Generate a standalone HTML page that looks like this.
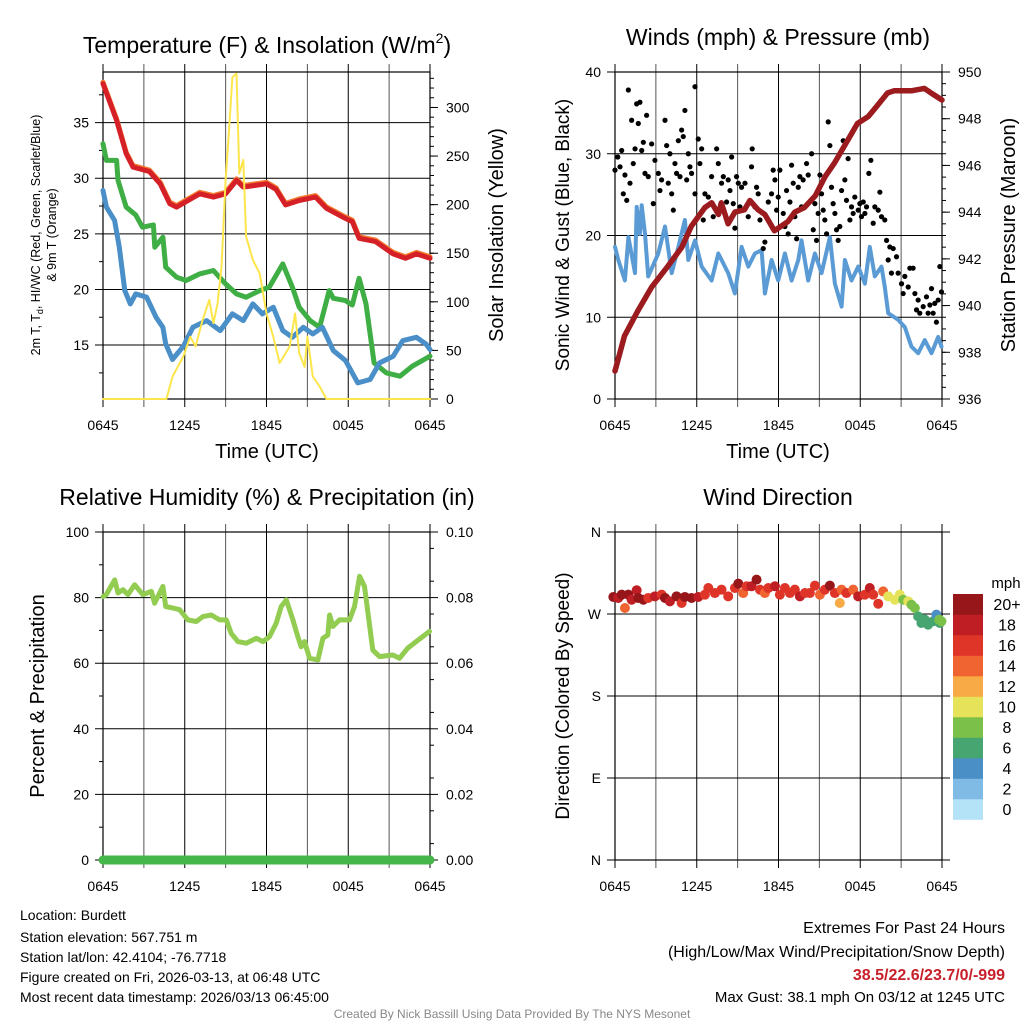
<!DOCTYPE html>
<html><head><meta charset="utf-8"><style>
html,body{margin:0;padding:0;background:#fff}
svg text{font-family:"Liberation Sans",Arial,sans-serif}
</style></head><body>
<svg id="chart" width="1024" height="1024" viewBox="0 0 1024 1024" xmlns="http://www.w3.org/2000/svg">
<rect width="1024" height="1024" fill="#fff"/>
<g id="root"></g>
<g font-size="14" fill="#000">
<text x="20" y="920">Location: Burdett</text>
<text x="20" y="942">Station elevation: 567.751 m</text>
<text x="20" y="962">Station lat/lon: 42.4104; -76.7718</text>
<text x="20" y="982">Figure created on Fri, 2026-03-13, at 06:48 UTC</text>
<text x="20" y="1002">Most recent data timestamp: 2026/03/13 06:45:00</text>
<text x="1005" y="933" text-anchor="end" font-size="16">Extremes For Past 24 Hours</text>
<text x="1005" y="957" text-anchor="end" font-size="16">(High/Low/Max Wind/Precipitation/Snow Depth)</text>
<text x="1005" y="980" text-anchor="end" font-size="16" font-weight="bold" fill="#c8202a">38.5/22.6/23.7/0/-999</text>
<text x="1005" y="1002" text-anchor="end" font-size="15">Max Gust: 38.1 mph On 03/12 at 1245 UTC</text>
<text x="512" y="1018" text-anchor="middle" font-size="12" fill="#888">Created By Nick Bassill Using Data Provided By The NYS Mesonet</text>
</g>
</svg>
<script>
// ---- Panel 1 data (hours since 0645 UTC) ----
const tempT=[0,1,1.7,2.2,3.4,4.2,4.9,5.4,7.1,8.1,9,9.8,10.3,12,12.7,13.4,14.4,15.6,16.4,17.6,18.3,18.8,20,21.3,22.2,23,24];
const tempV=[38.5,35.2,32.2,31,30.6,29.5,27.7,27.4,28.6,28.3,28.6,29.8,29.2,29.5,29,27.6,28,28.3,27.3,26.5,26.1,24.6,24.3,23.2,22.8,23.2,22.8];
const dewT=[0,0.25,1,1.1,1.7,2.4,2.9,3.7,3.8,4.4,4.6,5.4,6.1,7.1,8.1,9,9.8,10.5,11.5,12.2,13.2,13.9,14.4,15.2,15.9,16.6,16.9,17.8,18.3,18.8,19.3,19.9,20.8,21.8,22.7,24];
const dewV=[33.1,31.6,31.6,29.8,27.4,26.7,25.6,25.8,23.8,24.7,22,21.1,20.8,21.4,21.7,20.5,19.6,19.3,19.9,20.2,22.3,20.2,18.4,17.2,16.6,19.9,19.2,19,18.6,21,18.7,13.4,12.5,12.2,13.1,14];
const wcT=[0,0.25,0.85,1.2,1.6,2,2.4,3.2,3.9,4.4,4.6,5.1,5.9,6.6,7.6,8.6,9.5,10.3,11,11.7,12.5,13.2,13.9,14.7,15.4,16.1,16.9,17.8,18.7,19.6,20.3,21.3,22,23,23.7,24];
const wcV=[28.9,27.4,26.2,23.8,19.9,18.7,19.6,19.3,17.5,16.6,15.1,13.7,14.9,16.6,17.2,16.3,17.8,17.2,18.7,17.8,18.4,16.3,15.7,16.6,16,16.6,14.5,13.6,11.6,11.9,13.4,14,15.4,15.7,15.1,14.6];
const solT=[0,4.65,5.1,5.9,6.4,6.8,7.3,7.8,8.1,8.4,8.7,9,9.3,9.5,9.8,10,10.3,10.5,11,11.5,12,12.5,12.96,13.7,14.1,14.4,14.8,15,15.4,15.9,16.4,24];
const solV=[0,0,23,44,64,54,81,102,78,98,136,225,287,331,335,232,246,167,143,129,88,64,37,54,88,47,33,64,23,13,0,0];
// ---- Panel 2 data ----
const presT=[0,0.7,1.7,2.7,3.9,4.9,5.6,6.6,7.1,7.6,7.8,8.3,8.8,9.5,9.9,10.5,11,11.7,12.7,13.2,13.9,14.7,15.4,16.1,17.1,17.8,18.6,19.3,20,20.5,21.8,22.7,23.2,24];
const presV=[937.2,938.7,939.8,940.8,941.7,942.5,943.4,944.2,944.4,943.9,944.4,943.5,944,944.1,944.5,944.1,943.9,943.2,943.6,944,944.2,944.7,945.5,946.1,947.1,947.8,948.1,948.6,949.1,949.2,949.2,949.3,949.1,948.8];
const windT=[0,0.24,0.73,0.98,1.47,1.59,1.83,1.96,2.2,2.44,3.18,3.67,4.16,4.65,5.13,5.38,5.87,6.36,7.09,7.58,8.31,8.8,9.29,9.78,10.27,10.76,11,11.49,11.98,12.47,12.96,13.45,13.69,14.18,14.67,15.16,15.77,16.14,16.63,16.87,17.36,17.85,18.34,18.7,19.07,19.56,19.8,20.05,20.78,21.27,21.76,22.25,22.74,23.23,23.72,23.96];
const windV=[18.6,17,14.5,19.8,15.4,23.5,20.2,23.7,20.2,15,17.8,21.1,15.4,18.6,21.9,17,19.4,16.2,14.5,17.8,15.4,12.9,18.6,16.2,17.8,18.2,12.9,17,14.5,17.8,14.5,17,19.4,14.5,17.8,15.4,19.8,14.1,11.3,17,14.5,16.2,14.1,18.6,15,16.2,13.7,10.5,9.7,8.8,6.4,5.6,7.2,5.6,7.6,6.4];
const gustT=[0,.2,.37,.49,.61,.73,.86,.98,1.1,1.22,1.34,1.47,1.59,1.71,1.83,1.96,2.08,2.2,2.32,2.44,2.69,2.81,2.93,3.18,3.3,3.42,3.67,3.79,3.91,4.03,4.16,4.28,4.4,4.52,4.65,4.77,4.89,5.01,5.13,5.26,5.38,5.5,5.62,5.87,5.87,6.11,6.23,6.36,6.48,6.6,6.85,7.09,7.21,7.46,7.58,7.82,7.95,8.19,8.31,8.44,8.56,8.68,8.8,8.92,9.05,9.17,9.29,9.54,9.78,10.02,10.07,10.27,10.39,10.51,10.64,10.88,11,11.25,11.49,11.61,11.74,11.86,11.98,12.1,12.35,12.47,12.59,12.71,12.84,12.96,13.08,13.2,13.33,13.45,13.57,13.69,13.81,14.06,14.18,14.43,14.55,14.67,14.79,14.91,15.04,15.16,15.28,15.4,15.53,15.65,15.77,15.89,16.01,16.14,16.26,16.38,16.5,16.63,16.75,16.87,16.99,17.11,17.24,17.36,17.48,17.6,17.85,17.97,18.09,18.22,18.34,18.46,18.63,18.78,18.95,19.07,19.32,19.44,19.56,19.8,19.93,20.05,20.17,20.29,20.42,20.66,20.78,21.03,21.15,21.27,21.52,21.64,21.88,22.01,22.13,22.25,22.37,22.62,22.86,22.98,23.11,23.23,23.35,23.47,23.59,23.72,23.84,23.96];
const gustV=[28,29.6,28.4,30.4,25.1,27.4,24.3,37.8,26.4,34.1,28.8,30.6,36.1,33.7,36.3,30.4,31.4,27.6,34.7,27.2,31.2,23.9,29.2,27.6,25.5,26.8,34.1,31,26.4,30,25.1,23.1,28.8,27.6,31.6,27.2,32.9,32.1,35.3,26.8,30,28.4,27.6,38.2,25.1,31.8,28.8,30.6,21.9,25.1,24.7,27.2,22.3,30.6,28.8,26.4,27.2,24.1,26.8,25.5,29.6,23.9,20.9,27.2,26.4,23.5,25.9,26.4,22.3,28.4,30.6,23.5,25.9,25.1,21.9,18.4,19.2,24.1,25.1,28,26.8,23.1,24.7,28,22.7,21.1,25.5,20.2,24.1,28.6,26.4,22.3,19.6,25.9,27.2,23.5,26.8,28.8,27.4,30,20.7,23.9,19.4,22.7,27.4,25.1,23.1,21.9,20.2,33.9,31,25.9,23.9,22.7,20.7,19.4,21.1,25.5,31.6,26.8,24.3,29.4,21.9,23.5,22.7,24.7,23.1,23.9,22.3,24.1,22.7,23.5,27.6,29.2,21.5,23.5,23.1,25.3,22.3,21.9,19.4,17,18.6,15.4,18.4,17.4,15.4,14.1,12.9,15,13.7,16,16,12.9,10.9,12.1,10.5,11.3,12.5,10.5,11.5,13.5,10.5,11.7,9.4,12.1,16.2,13.1];
// ---- Panel 3 data ----
const rhT=[0,0.24,0.86,1.1,1.47,1.83,2.32,2.93,3.55,3.79,4.4,4.6,5.13,5.62,6.23,6.85,7.33,7.95,8.56,9.05,9.41,9.9,10.51,11.25,11.74,12.22,12.71,13.08,13.45,13.94,14.3,14.55,14.79,15.16,15.77,16.14,16.5,16.63,16.87,17.36,18.09,18.46,18.83,19.19,19.8,20.29,21.27,21.76,22.37,22.98,23.96];
const rhV=[80.3,80.9,85.4,81.4,82.4,80.9,83.9,80.9,81.9,78.3,83.4,77.3,76.8,76.3,73.2,72.7,74.2,74.7,73.2,73.2,69.1,66.6,66.1,67.6,66.6,68.1,72.2,77.3,79.3,73.2,68.1,65,66.6,61.5,61,67.6,68.6,74.7,71.2,73.2,73.2,77.3,86.5,83.4,64,62,62.5,61.5,64.6,66.6,69.7];
const precipT=[0,24];
const precipV=[0,0];
// ---- Panel 4 data ----
const dirT=[-0.12,0.24,0.49,0.73,0.98,1.22,1.59,1.71,2.08,2.44,2.93,3.42,3.67,4.03,4.52,4.89,5.13,5.62,6.11,6.6,6.85,7.33,7.82,8.31,8.8,9.05,9.41,9.66,10.02,10.39,10.64,11,11.25,11.74,12.1,12.47,12.84,13.2,13.57,13.94,14.3,14.67,15.04,15.4,15.77,16.14,16.5,16.63,16.99,17.48,17.85,18.34,18.7,18.95,19.32,19.68,20.05,20.54,20.9,21.15,21.52,21.76,22.01,22.25,22.49,22.74,22.98,23.35,23.59,23.84,23.96,23.79];
const dirV=[288.7,287.6,291.2,276.6,291.2,285.7,296,287.6,285.7,287.6,289.4,291.2,287.6,283.9,289.4,282.1,288.7,287.6,288.7,291.2,298.5,293,296.7,289.4,298.5,303.3,293,300.4,300.4,307.7,296.7,293,298.5,300.4,291.2,298.5,293,296.7,289.4,293,293,301.1,291.2,296.7,301.1,293,282.1,296.7,293,296.7,289.4,291.2,298.5,291.2,281.3,294.8,289.4,285.7,291.2,285.7,283.9,280.2,276.6,267.4,260.1,263.8,258.3,262,269.3,260.1,262,263.8];
const dirSpd=[20,18,20,14,20,18,18,20,20,16,18,16,20,18,20,16,20,20,18,16,16,16,16,16,16,20,14,16,18,20,16,14,16,18,16,16,16,16,18,16,16,16,14,16,20,16,12,14,16,14,18,16,18,16,16,14,10,10,10,8,10,8,8,6,6,6,6,6,4,6,8,8];
const binLabels=['0','2','4','6','8','10','12','14','16','18','20+'];
const binColors=['#b4e3f8','#7fbbe4','#4a8fc6','#47a572','#7bc149','#e6e25a','#f7aa45','#ef6430','#de3528','#be1e24','#96161a'];

const NS='http://www.w3.org/2000/svg';
const root=document.getElementById('root');
function el(tag,attrs,parent){const e=document.createElementNS(NS,tag);for(const k in attrs)e.setAttribute(k,attrs[k]);(parent||root).appendChild(e);return e;}
function txt(x,y,s,attrs,parent){const e=el('text',Object.assign({x:x,y:y},attrs||{}),parent);e.textContent=s;return e;}

function makeX(x0){return t=>x0+t/24*327;}
function makeY(y0,y1,v0,v1){return v=>y1-(v-v0)/(v1-v0)*(y1-y0);}

function panel(o){
  const g=el('g',{});
  
  
  const X=makeX(o.x0), x1=o.x0+327;
  // vertical grid
  for(let h=0;h<=24;h+=3){
    const l=el('line',{x1:X(h),x2:X(h),y1:o.y0-8,y2:o.y1+8,stroke:(h%6==0)?'#000':'#555','stroke-width':1},g);
    
    
  }
  const xl=['0645','1245','1845','0045','0645'];
  xl.forEach((s,i)=>{const t=txt(X(i*6),o.y1+31,s,{'font-size':14,'text-anchor':'middle'},g);
    });
  // left axis
  const YL=makeY(o.y0,o.y1,o.lmin,o.lmax);
  o.lticks.forEach((v,i)=>{
    const y=YL(v);
    const l=el('line',{x1:o.x0-8,x2:o.rgrid?x1+8:x1,y1:y,y2:y,stroke:'#000','stroke-width':1},g);
    
    const t=txt(o.x0-14,y+5,o.llabels[i],{'font-size':14,'text-anchor':'end'},g);
    
  });
  (o.lminor||[]).forEach(v=>{const y=YL(v);el('line',{x1:o.x0-4,x2:o.x0,y1:y,y2:y,stroke:'#000'},g);});
  let YR=null;
  if(o.rmin!==undefined){
    YR=makeY(o.y0,o.y1,o.rmin,o.rmax);
    o.rticks.forEach((v,i)=>{const y=YR(v);el('line',{x1:x1,x2:x1+8,y1:y,y2:y,stroke:'#000'},g);
      const t=txt(x1+16,y+5,o.rlabels[i],{'font-size':14},g);
      });
    (o.rminor||[]).forEach(v=>{const y=YR(v);el('line',{x1:x1,x2:x1+4,y1:y,y2:y,stroke:'#000'},g);});
  }
  el('rect',{x:o.x0,y:o.y0,width:327,height:o.y1-o.y0,fill:'none',stroke:'#000','stroke-width':1.2},g);
  return {g,X,YL,YR};
}
function line(p,ts,vs,Y,color,w,name,dy){
  let d='';ts.forEach((t,i)=>{d+=(i?'L':'M')+p.X(t).toFixed(1)+','+(Y(vs[i])+(dy||0)).toFixed(1);});
  const e=el('path',{d:d,fill:'none',stroke:color,'stroke-width':w,'stroke-linejoin':'round','stroke-linecap':'round'},p.g);
  
  
  return e;
}

// Panel 1
const rng=(a,b,s)=>{const r=[];for(let v=a;v<=b+1e-9;v+=s)r.push(+v.toFixed(4));return r;};
const p1=panel({name:'temperature-panel',x0:103,y0:72,y1:399,lmin:10.15,lmax:39.55,lticks:[15,20,25,30,35],llabels:['15','20','25','30','35'],lminor:[12.5,17.5,22.5,27.5,32.5,37.5],
  rmin:0,rmax:336.5,rticks:[0,50,100,150,200,250,300],rlabels:['0','50','100','150','200','250','300'],rminor:rng(10,330,10)});
line(p1,tempT,tempV,p1.YL,'#f47a30',5,'temp-9m-line',-1.5);
line(p1,tempT,tempV,p1.YL,'#d62027',5,'temp-2m-line');
line(p1,dewT,dewV,p1.YL,'#3fae44',5,'dewpoint-line');
line(p1,wcT,wcV,p1.YL,'#4a8fc8',5,'windchill-line');
line(p1,solT,solV,p1.YR,'#fde64b',2,'insolation-line');
txt(267,53,'',{},p1.g);
{const t=el('text',{x:267,y:53,'font-size':23,'text-anchor':'middle'},p1.g);t.innerHTML='Temperature (F) &amp; Insolation (W/m<tspan font-size="14" dy="-10">2</tspan><tspan dy="10">)</tspan>';
 }
{const t=el('text',{'font-size':12.5,'text-anchor':'middle',transform:'translate(40,235) rotate(-90)'},p1.g);
 t.innerHTML='2m T, T<tspan font-size="9" dy="3">d</tspan><tspan dy="-3">, HI/WC (Red, Green, Scarlet/Blue)</tspan>';
 
 const t2=txt(0,0,'& 9m T (Orange)',{'font-size':12.5,'text-anchor':'middle',transform:'translate(56,235) rotate(-90)'},p1.g);
 }
{const t=txt(0,0,'Solar Insolation (Yellow)',{'font-size':20,'text-anchor':'middle',transform:'translate(503,235) rotate(-90)'},p1.g);
 }
{const t=txt(267,458,'Time (UTC)',{'font-size':20,'text-anchor':'middle'},p1.g);
 }

// Panel 2
const p2=panel({name:'winds-panel',x0:615,y0:72,y1:399,lmin:0,lmax:40,lticks:[0,10,20,30,40],llabels:['0','10','20','30','40'],
  rmin:936,rmax:950,rticks:[936,938,940,942,944,946,948,950],rlabels:['936','938','940','942','944','946','948','950'],rminor:rng(936.5,949.5,0.5)});
line(p2,windT,windV,p2.YL,'#5b9bd5',4,'sustained-wind-line');
gustT.forEach((t,i)=>{const c=el('circle',{cx:p2.X(t),cy:p2.YL(gustV[i]),r:2.6,fill:'#000'},p2.g);
  });
line(p2,presT,presV,p2.YR,'#9b1b1f',5.5,'pressure-line');
{const t=txt(778,45,'Winds (mph) & Pressure (mb)',{'font-size':23,'text-anchor':'middle'},p2.g);}
{const t=txt(0,0,'Sonic Wind & Gust (Blue, Black)',{'font-size':19,'text-anchor':'middle',transform:'translate(569,235) rotate(-90)'},p2.g);}
{const t=txt(0,0,'Station Pressure (Maroon)',{'font-size':20,'text-anchor':'middle',transform:'translate(1015,235) rotate(-90)'},p2.g);}
{const t=txt(778,458,'Time (UTC)',{'font-size':20,'text-anchor':'middle'},p2.g);}

// Panel 3
const p3=panel({name:'humidity-panel',x0:103,y0:532,y1:860,lmin:0,lmax:100,lticks:[0,20,40,60,80,100],llabels:['0','20','40','60','80','100'],lminor:[10,30,50,70,90],
  rmin:0,rmax:0.1,rticks:[0,0.02,0.04,0.06,0.08,0.1],rlabels:['0.00','0.02','0.04','0.06','0.08','0.10'],rminor:rng(0.005,0.095,0.01)});
line(p3,rhT,rhV,p3.YL,'#92cc50',5,'humidity-line');
line(p3,precipT,precipV,p3.YR,'#45b649',9,'precipitation-line');
{const t=txt(267,505,'Relative Humidity (%) & Precipitation (in)',{'font-size':23,'text-anchor':'middle'},p3.g);}
{const t=txt(0,0,'Percent & Precipitation',{'font-size':20,'text-anchor':'middle',transform:'translate(44,696) rotate(-90)'},p3.g);}

// Panel 4
const p4=panel({name:'wind-direction-panel',x0:615,y0:532,y1:860,lmin:0,lmax:360,lticks:[0,90,180,270,360],llabels:['N','E','S','W','N'],rgrid:true});
dirT.forEach((t,i)=>{const bi=Math.min(10,Math.floor(dirSpd[i]/2));
  const c=el('circle',{cx:p4.X(t),cy:p4.YL(dirV[i]),r:5,fill:binColors[bi]},p4.g);
  });
{const t=txt(778,505,'Wind Direction',{'font-size':23,'text-anchor':'middle'},p4.g);}
{const t=txt(0,0,'Direction (Colored By Speed)',{'font-size':19,'text-anchor':'middle',transform:'translate(569,696) rotate(-90)'},p4.g);}
// colorbar
const cb=el('g',{});


binColors.forEach((c,i)=>{const y=594+(10-i)*20.5;
  const r=el('rect',{x:953,y:y,width:30,height:20.8,fill:c},cb);
  
  const t=txt(1007,y+16,binLabels[i],{'font-size':16,'text-anchor':'middle'},cb);
  });
{const t=txt(1006,588,'mph',{'font-size':15,'text-anchor':'middle'},cb);}
</script>
</body></html>
